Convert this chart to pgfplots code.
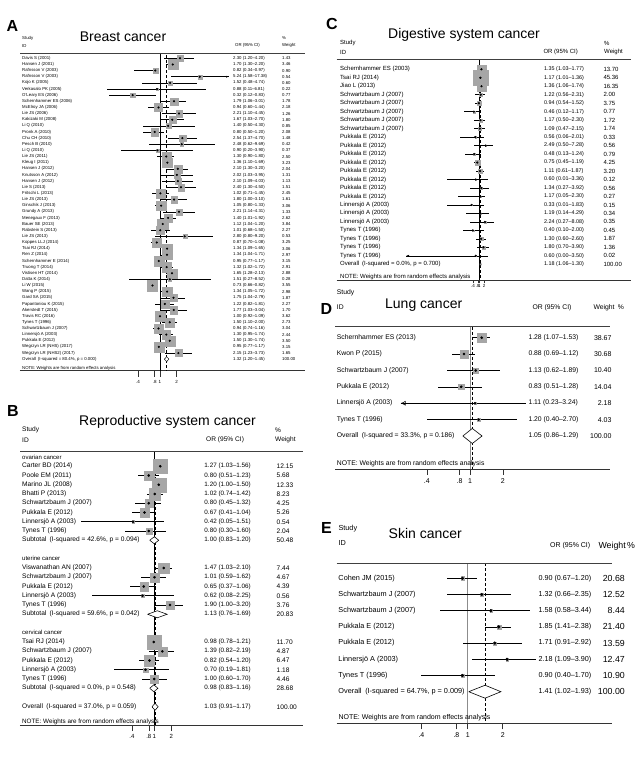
\documentclass[border=0pt]{standalone}
\usepackage{pgfplots}
\pgfplotsset{compat=1.18}
\usepackage{pgfplotstable}
\usepackage{fontspec}
\setmainfont{Liberation Sans}
\usetikzlibrary{arrows.meta}
\pgfkeys{/pgf/number format/assume math mode=true}
\newcommand\fs[1]{\fontsize{#1}{#1}\selectfont}

\pgfplotsset{
  mynames/.style={only marks, mark=none, nodes near coords, point meta=explicit symbolic,
    nodes near coords style={anchor=west, inner sep=0pt, font=#1}},
  myortext/.style={only marks, mark=none,
    visualization depends on={\thisrow{est}\as\ORe},
    visualization depends on={\thisrow{lo}\as\ORl},
    visualization depends on={\thisrow{hi}\as\ORh},
    nodes near coords={\pgfmathprintnumber{\ORe} (\pgfmathprintnumber{\ORl}--\pgfmathprintnumber{\ORh})},
    nodes near coords style={anchor=west, inner sep=0pt, font=#1, /pgf/number format/fixed, /pgf/number format/fixed zerofill, /pgf/number format/precision=2}},
  mywtext/.style={only marks, mark=none,
    visualization depends on={\thisrow{w}\as\ORw},
    nodes near coords={\pgfmathprintnumber{\ORw}},
    nodes near coords style={anchor=west, inner sep=0pt, font=#1, /pgf/number format/fixed, /pgf/number format/fixed zerofill, /pgf/number format/precision=2}},
  mysq/.style={only marks, mark=square*, scatter, scatter/use mapped color={draw=black!35, fill=black!35, line width=0.1pt},
    visualization depends on={#1*sqrt(\thisrow{w})\as\msz},
    scatter/@pre marker code/.append style={/tikz/mark size=\msz}},
  myci/.style 2 args={only marks, mark=*, mark size=#1, black, mark options={draw=black, fill=black},
    error bars/x dir=both, error bars/x explicit, error bars/error mark=none,
    error bars/error bar style={line width=#2, black}},
}

% ---------------- Panel A: breast cancer
\pgfplotstableread[col sep=semicolon]{
row;name;est;lo;hi;w
1;Davis S (2001);2.30;1.20;4.20;1.43
2;Hansen J (2001);1.70;1.30;2.20;3.46
3;Rafnsson V (2003);0.82;0.34;0.97;0.90
4;Rafnsson V (2003);5.24;1.58;17.38;0.54
5;Kojo K (2005);1.52;0.48;4.74;0.60
6;Verkasalo PK (2005);0.88;0.11;6.81;0.22
7;O'Leary ES (2006);0.32;0.12;0.83;0.77
8;Schernhammer ES (2006);1.79;1.06;3.01;1.78
9;McElroy JA (2006);0.94;0.60;1.44;2.18
10;Lie JS (2006);2.21;1.10;4.45;1.26
11;Kakizaki M (2008);1.67;1.03;2.70;1.80
12;Li Q (2010);1.40;0.50;4.30;0.85
13;Pronk A (2010);0.80;0.50;1.20;2.08
14;Chu CH (2010);2.54;1.37;4.70;1.48
15;Pesch B (2010);2.48;0.62;9.69;0.42
16;Li Q (2010);0.90;0.20;3.90;0.37
17;Lie JS (2011);1.30;0.90;1.80;2.50
18;Kleug I (2011);1.36;1.10;1.69;3.23
19;Hansen J (2012);2.10;1.30;3.20;2.04
20;Knutsson A (2012);2.02;1.03;3.95;1.31
21;Hansen J (2012);2.10;1.09;4.03;1.13
22;Lie S (2013);2.40;1.30;4.50;1.51
23;Fritschi L (2013);1.02;0.71;1.45;2.45
24;Lie JS (2013);1.80;1.00;3.10;1.61
25;Ginschik J (2013);1.05;0.80;1.33;3.06
26;Grundy A (2013);2.21;1.14;4.31;1.33
27;Menegaux F (2013);1.40;1.01;1.92;2.62
28;Bauer SE (2013);1.12;1.04;1.20;3.84
29;Rabstein S (2013);1.01;0.68;1.50;2.27
30;Lie JS (2013);2.80;0.80;9.20;0.53
31;Koppes LLJ (2014);0.87;0.70;1.08;3.25
32;Tsai RJ (2014);1.34;1.09;1.65;3.06
33;Ren Z (2014);1.34;1.04;1.71;2.97
34;Schernhammer E (2014);0.95;0.77;1.17;3.15
35;Truong T (2014);1.32;1.02;1.72;2.91
36;Vistisen HT (2014);1.65;1.28;2.13;2.88
37;Datta K (2014);1.51;0.27;8.52;0.28
38;Li W (2015);0.73;0.66;0.82;3.55
39;Wang P (2015);1.34;1.05;1.72;2.98
40;Gard SA (2015);1.75;1.04;2.79;1.87
41;Papantoniou K (2015);1.22;0.82;1.81;2.27
42;Akerstedt T (2015);1.77;1.03;3.04;1.70
43;Travis RC (2016);1.00;0.92;1.09;3.62
44;Tynes T (1996);1.50;1.10;2.00;2.73
45;Schwartzbaum J (2007);0.94;0.74;1.16;3.04
46;Linnersjö A (2003);1.30;0.95;1.74;2.44
47;Pukkala E (2012);1.50;1.30;1.74;3.50
48;Wegrzyn LR (NHS) (2017);0.95;0.77;1.17;3.15
49;Wegrzyn LR (NHS2) (2017);2.15;1.23;3.73;1.65
}\tabA
\pgfplotstableread[col sep=semicolon]{
row;name;est;lo;hi;w
50;Overall\enspace(I-squared = 80.4\%, p = 0.000);1.32;1.20;1.45;100
}\sumA

% ---------------- Panel B: reproductive system cancer
\pgfplotstableread[col sep=semicolon]{
row;name;est;lo;hi;w
2;Carter BD (2014);1.27;1.03;1.56;12.15
3;Poole EM (2011);0.80;0.51;1.23;5.68
4;Marino JL (2008);1.20;1.00;1.50;12.33
5;Bhatti P (2013);1.02;0.74;1.42;8.23
6;Schwartzbaum J (2007);0.80;0.45;1.32;4.25
7;Pukkala E (2012);0.67;0.41;1.04;5.26
8;Linnersjö A (2003);0.42;0.05;1.51;0.54
9;Tynes T (1996);0.80;0.30;1.60;2.04
13;Viswanathan AN (2007);1.47;1.03;2.10;7.44
14;Schwartzbaum J (2007);1.01;0.59;1.62;4.67
15;Pukkala E (2012);0.65;0.37;1.06;4.39
16;Linnersjö A (2003);0.62;0.08;2.25;0.56
17;Tynes T (1996);1.90;1.00;3.20;3.76
21;Tsai RJ (2014);0.98;0.78;1.21;11.70
22;Schwartzbaum J (2007);1.39;0.82;2.19;4.87
23;Pukkala E (2012);0.82;0.54;1.20;6.47
24;Linnersjö A (2003);0.70;0.19;1.81;1.18
25;Tynes T (1996);1.00;0.60;1.70;4.46
}\tabB
\pgfplotstableread[col sep=semicolon]{
row;name;est;lo;hi;w
10;Subtotal\enspace(I-squared = 42.6\%, p = 0.094);1.00;0.83;1.20;50.48
18;Subtotal\enspace(I-squared = 59.6\%, p = 0.042);1.13;0.76;1.69;20.83
26;Subtotal\enspace(I-squared = 0.0\%, p = 0.548);0.98;0.83;1.16;28.68
28;Overall\enspace(I-squared = 37.0\%, p = 0.059);1.03;0.91;1.17;100
}\sumB
\pgfplotstableread[col sep=semicolon]{
row;name
1;ovarian cancer
12;uterine cancer
20;cervical cancer
}\headB

% ---------------- Panel C: digestive system cancer
\pgfplotstableread[col sep=semicolon]{
row;name;est;lo;hi;w
1;Schernhammer ES (2003);1.35;1.03;1.77;13.70
2;Tsai RJ (2014);1.17;1.01;1.36;45.36
3;Jiao L (2013);1.36;1.06;1.74;16.35
4;Schwartzbaum J (2007);1.22;0.56;2.31;2.00
5;Schwartzbaum J (2007);0.94;0.54;1.52;3.75
6;Schwartzbaum J (2007);0.46;0.12;1.17;0.77
7;Schwartzbaum J (2007);1.17;0.50;2.30;1.72
8;Schwartzbaum J (2007);1.09;0.47;2.15;1.74
9;Pukkala E (2012);0.56;0.06;2.01;0.33
10;Pukkala E (2012);2.49;0.50;7.28;0.56
11;Pukkala E (2012);0.48;0.13;1.24;0.79
12;Pukkala E (2012);0.75;0.45;1.19;4.25
13;Pukkala E (2012);1.11;0.61;1.87;3.20
14;Pukkala E (2012);0.60;0.01;3.36;0.12
15;Pukkala E (2012);1.34;0.27;3.92;0.56
16;Pukkala E (2012);1.17;0.05;2.30;0.27
17;Linnersjö A (2003);0.33;0.01;1.83;0.15
18;Linnersjö A (2003);1.19;0.14;4.29;0.34
19;Linnersjö A (2003);2.24;0.27;8.08;0.35
20;Tynes T (1996);0.40;0.10;2.00;0.45
21;Tynes T (1996);1.30;0.60;2.60;1.87
22;Tynes T (1996);1.80;0.70;3.90;1.36
23;Tynes T (1996);0.60;0.0000284;3.50;0.02
}\tabC
\pgfplotstableread[col sep=semicolon]{
row;name;est;lo;hi;w
24;Overall\enspace(I-squared = 0.0\%, p = 0.700);1.18;1.06;1.30;100
}\sumC

% ---------------- Panel D: lung cancer
\pgfplotstableread[col sep=semicolon]{
row;name;est;lo;hi;w
1;Schernhammer ES (2013);1.28;1.07;1.53;38.67
2;Kwon P (2015);0.88;0.69;1.12;30.68
3;Schwartzbaum J (2007);1.13;0.62;1.89;10.40
4;Pukkala E (2012);0.83;0.51;1.28;14.04
5;Linnersjö A (2003);1.11;0.23;3.24;2.18
6;Tynes T (1996);1.20;0.40;2.70;4.03
}\tabD
\pgfplotstableread[col sep=semicolon]{
row;name;est;lo;hi;w
7;Overall\enspace(I-squared = 33.3\%, p = 0.186);1.05;0.86;1.29;100
}\sumD

% ---------------- Panel E: skin cancer
\pgfplotstableread[col sep=semicolon]{
row;name;est;lo;hi;w
1;Cohen JM (2015);0.90;0.67;1.20;20.68
2;Schwartzbaum J (2007);1.32;0.66;2.35;12.52
3;Schwartzbaum J (2007);1.58;0.58;3.44;8.44
4;Pukkala E (2012);1.85;1.41;2.38;21.40
5;Pukkala E (2012);1.71;0.91;2.92;13.59
6;Linnersjö A (2003);2.18;1.09;3.90;12.47
7;Tynes T (1996);0.90;0.40;1.70;10.90
}\tabE
\pgfplotstableread[col sep=semicolon]{
row;name;est;lo;hi;w
8;Overall\enspace(I-squared = 64.7\%, p = 0.009);1.41;1.02;1.93;100
}\sumE

\begin{document}
\begin{tikzpicture}[x=1pt,y=1pt]
\path[use as bounding box] (0,0) rectangle (640,757);

% ================= A
\begin{axis}[xmode=log, scale only axis, y dir=reverse, axis x line*=bottom, axis y line=none, clip=false,
  xtick={0.4,0.8,1,2}, xticklabels={.4,.8,1,2}, minor xtick={}, tick align=outside,
  axis line style={line width=0.5pt, black!80}, tick style={line width=0.45pt, black!80},
  at={(20pt,386.3pt)}, anchor=south west, width=285pt, height=317.7pt,
  xmin=0.002928, xmax=420.6, ymin=0.137, ymax=51.88, major tick length=6pt,
  xticklabel style={font=\fs{4.5}}]
\addplot[black, line width=0.45pt] coordinates {(1,0.137) (1,51.88)};
\addplot[black, densely dashed, line width=0.4pt] coordinates {(1.32,0.5) (1.32,51.88)};
\addplot[mysq=2.7] table[x=est, y=row] {\tabA};
\addplot[myci={0.85pt}{0.5pt}] table[x=est, y=row, x error plus expr=\thisrow{hi}-\thisrow{est}, x error minus expr=\thisrow{est}-\thisrow{lo}] {\tabA};
\addplot[-{Latex[length=2.5pt,width=2pt]}, line width=0.5pt] coordinates {(5.24,4) (17.38,4)};
\addplot[fill=white, draw=black, line width=0.45pt] coordinates {(1.20,50) (1.32,49.6) (1.45,50) (1.32,50.4) (1.20,50)};
\addplot[mynames=\fs{4.3}] table[x expr={exp(-5.75)}, y=row, meta=name] {\tabA};
\addplot[mynames=\fs{4.3}] table[x expr={exp(-5.75)}, y=row, meta=name] {\sumA};
\addplot[myortext=\fs{4.3}] table[x expr={exp(3.0417)}, y=row] {\tabA};
\addplot[myortext=\fs{4.3}] table[x expr={exp(3.0417)}, y=row] {\sumA};
\addplot[mywtext=\fs{4.3}] table[x expr={exp(5.0833)}, y=row] {\tabA};
\addplot[mywtext=\fs{4.3}] table[x expr={exp(5.0833)}, y=row] {\sumA};
\end{axis}
\node[font=\bfseries\fs{16}] at (12.5,731) {A};
\node[font=\fs{14}] at (123,720.3) {Breast cancer};
\node[anchor=west, inner sep=0pt, font=\fs{4.3}] at (22,718.7) {Study};
\node[anchor=west, inner sep=0pt, font=\fs{4.3}] at (22,711.3) {ID};
\node[anchor=west, inner sep=0pt, font=\fs{4.3}] at (235,711.3) {OR (95\% CI)};
\node[anchor=west, inner sep=0pt, font=\fs{4.3}] at (282,718.7) {\%};
\node[anchor=west, inner sep=0pt, font=\fs{4.3}] at (282,711.3) {Weight};
\draw[black!75, line width=0.5pt] (20,704) -- (305,704);
\node[anchor=base west, inner sep=0pt, font=\fs{4.3}] at (22,387.5) {NOTE: Weights are from random effects analysis};

% ================= B
\begin{axis}[xmode=log, scale only axis, y dir=reverse, axis x line*=bottom, axis y line=none, clip=false,
  xtick={0.4,0.8,1,2}, xticklabels={.4,.8,1,2}, minor xtick={}, tick align=outside,
  axis line style={line width=0.5pt, black!80}, tick style={line width=0.45pt, black!80},
  at={(20pt,32pt)}, anchor=south west, width=283pt, height=274pt,
  xmin=0.0041626, xmax=432.42, ymin=0.351, ymax=29.97, major tick length=6pt,
  xticklabel style={font=\fs{6}}]
\addplot[black, line width=0.5pt] coordinates {(1,0.351) (1,29.97)};
\addplot[black, densely dashed, line width=0.45pt] coordinates {(1.03,1.5) (1.03,29.97)};
\addplot[mysq=2.0] table[x=est, y=row] {\tabB};
\addplot[myci={1.1pt}{0.6pt}] table[x=est, y=row, x error plus expr=\thisrow{hi}-\thisrow{est}, x error minus expr=\thisrow{est}-\thisrow{lo}] {\tabB};
\addplot[fill=white, draw=black, line width=0.55pt] coordinates {(0.83,10) (1.00,9.62) (1.20,10) (1.00,10.38) (0.83,10)};
\addplot[fill=white, draw=black, line width=0.55pt] coordinates {(0.76,18) (1.13,17.62) (1.69,18) (1.13,18.38) (0.76,18)};
\addplot[fill=white, draw=black, line width=0.55pt] coordinates {(0.83,26) (0.98,25.62) (1.16,26) (0.98,26.38) (0.83,26)};
\addplot[fill=white, draw=black, line width=0.55pt] coordinates {(0.91,28) (1.03,27.62) (1.17,28) (1.03,28.38) (0.91,28)};
\addplot[mynames=\fs{6.6}] table[x expr={exp(-5.4)}, y=row, meta=name] {\tabB};
\addplot[mynames=\fs{6.6}] table[x expr={exp(-5.4)}, y=row, meta=name] {\sumB};
\addplot[mynames=\fs{6}] table[x expr={exp(-5.4)}, y=row, meta=name] {\headB};
\addplot[myortext=\fs{6.3}] table[x expr={exp(2.0408)}, y=row] {\tabB};
\addplot[myortext=\fs{6.3}] table[x expr={exp(2.0408)}, y=row] {\sumB};
\addplot[mywtext=\fs{6.6}] table[x expr={exp(4.9878)}, y=row] {\tabB};
\addplot[mywtext=\fs{6.6}] table[x expr={exp(4.9878)}, y=row] {\sumB};
\end{axis}
\node[font=\bfseries\fs{16}] at (13,346) {B};
\node[font=\fs{14}] at (167.5,335.3) {Reproductive system cancer};
\node[anchor=west, inner sep=0pt, font=\fs{6.6}] at (22,327) {Study};
\node[anchor=west, inner sep=0pt, font=\fs{6.6}] at (22,317) {ID};
\node[anchor=west, inner sep=0pt, font=\fs{6.6}] at (206,317) {OR (95\% CI)};
\node[anchor=west, inner sep=0pt, font=\fs{6.6}] at (275,327) {\%};
\node[anchor=west, inner sep=0pt, font=\fs{6.6}] at (275,317) {Weight};
\draw[black!75, line width=0.5pt] (20,306) -- (303,306);
\node[anchor=base west, inner sep=0pt, font=\fs{6.3}] at (22,33.5) {NOTE: Weights are from random effects analysis};

% ================= C
\begin{axis}[xmode=log, scale only axis, y dir=reverse, axis x line*=bottom, axis y line=none, clip=false,
  xtick={0.4,0.8,1,2}, xticklabels={.4,.8,1,2}, minor xtick={}, tick align=outside,
  axis line style={line width=0.5pt, black!80}, tick style={line width=0.45pt, black!80},
  at={(336.7pt,477pt)}, anchor=south west, width=294.3pt, height=220.7pt,
  xmin=1.4222e-9, xmax=2.5799e9, ymin=-0.179, ymax=25.85, major tick length=3.5pt,
  xticklabel style={font=\fs{4.5}, inner sep=1pt}]
\addplot[black, line width=0.45pt] coordinates {(1,-0.179) (1,25.85)};
\addplot[black, densely dashed, line width=0.4pt] coordinates {(1.18,0.5) (1.18,25.85)};
\addplot[mysq=1.12] table[x=est, y=row] {\tabC};
\addplot[myci={0.9pt}{0.55pt}] table[x=est, y=row, x error plus expr=\thisrow{hi}-\thisrow{est}, x error minus expr=\thisrow{est}-\thisrow{lo}] {\tabC};
\addplot[-{Latex[length=3pt,width=2.2pt]}, line width=0.55pt] coordinates {(0.60,23) (0.0000284,23)};
\addplot[fill=white, draw=black, line width=0.45pt] coordinates {(1.06,24) (1.18,23.7) (1.30,24) (1.18,24.3) (1.06,24)};
\addplot[mynames=\fs{6}] table[x expr={exp(-19.9)}, y=row, meta=name] {\tabC};
\addplot[mynames=\fs{6}] table[x expr={exp(-19.9)}, y=row, meta=name] {\sumC};
\addplot[myortext=\fs{5.4}] table[x expr={exp(9.243)}, y=row] {\tabC};
\addplot[myortext=\fs{5.4}] table[x expr={exp(9.243)}, y=row] {\sumC};
\addplot[mywtext=\fs{6}] table[x expr={exp(17.714)}, y=row] {\tabC};
\addplot[mywtext=\fs{6}] table[x expr={exp(17.714)}, y=row] {\sumC};
\end{axis}
\node[font=\bfseries\fs{16}] at (332,733) {C};
\node[font=\fs{14}] at (464,722) {Digestive system cancer};
\node[anchor=west, inner sep=0pt, font=\fs{6}] at (340,714) {Study};
\node[anchor=west, inner sep=0pt, font=\fs{6}] at (340,705) {ID};
\node[anchor=west, inner sep=0pt, font=\fs{6}] at (543.3,705) {OR (95\% CI)};
\node[anchor=west, inner sep=0pt, font=\fs{6}] at (604,714) {\%};
\node[anchor=west, inner sep=0pt, font=\fs{6}] at (604,705) {Weight};
\draw[black!75, line width=0.5pt] (336.7,697.7) -- (631,697.7);
\node[anchor=base west, inner sep=0pt, font=\fs{6}] at (340,478.5) {NOTE: Weights are from random effects analysis};

% ================= D
\begin{axis}[xmode=log, scale only axis, y dir=reverse, axis x line*=bottom, axis y line=none, clip=false,
  xtick={0.4,0.8,1,2}, xticklabels={.4,.8,1,2}, minor xtick={}, tick align=outside,
  axis line style={line width=0.5pt, black!80}, tick style={line width=0.45pt, black!80},
  at={(335pt,287.7pt)}, anchor=south west, width=275pt, height=142.6pt,
  xmin=0.05726, xmax=19.416, ymin=0.328, ymax=9.034, major tick length=5.5pt,
  xticklabel style={font=\fs{7}}]
\addplot[black!45, line width=0.9pt] coordinates {(1,0.328) (1,9.034)};
\addplot[black, densely dashed, line width=0.4pt] coordinates {(1.05,0.328) (1.05,9.034)};
\addplot[mysq=0.72] table[x=est, y=row] {\tabD};
\addplot[myci={1.1pt}{0.6pt}] table[x=est, y=row, x error plus expr=\thisrow{hi}-\thisrow{est}, x error minus expr=\thisrow{est}-\thisrow{lo}] {\tabD};
\addplot[-{Latex[open, length=5pt,width=5pt]}, line width=0.6pt] coordinates {(1.11,5) (0.23,5)};
\addplot[fill=white, draw=black, line width=0.6pt] coordinates {(0.86,7) (1.05,6.54) (1.29,7) (1.05,7.46) (0.86,7)};
\addplot[mynames=\fs{6.8}] table[x expr={exp(-2.8242)}, y=row, meta=name] {\tabD};
\addplot[mynames=\fs{6.8}] table[x expr={exp(-2.8242)}, y=row, meta=name] {\sumD};
\addplot[myortext=\fs{6.8}] table[x expr={exp(1.2352)}, y=row] {\tabD};
\addplot[myortext=\fs{6.8}] table[x expr={exp(1.2352)}, y=row] {\sumD};
\addplot[mywtext=\fs{7}, nodes near coords style={anchor=east}] table[x expr={exp(3.0021)}, y=row] {\tabD};
\addplot[mywtext=\fs{7}, nodes near coords style={anchor=east}] table[x expr={exp(3.0021)}, y=row] {\sumD};
\end{axis}
\node[font=\bfseries\fs{16}] at (326.5,448) {D};
\node[font=\fs{14}] at (423.7,452) {Lung cancer};
\node[anchor=west, inner sep=0pt, font=\fs{6.8}] at (336.7,464.3) {Study};
\node[anchor=west, inner sep=0pt, font=\fs{6.8}] at (336.7,449.7) {ID};
\node[anchor=west, inner sep=0pt, font=\fs{6.8}] at (532.3,449.7) {OR (95\% CI)};
\node[anchor=west, inner sep=0pt, font=\fs{6.8}] at (593.3,449.7) {Weight\enspace\%};
\draw[black!75, line width=0.5pt] (335,430.3) -- (610,430.3);
\node[anchor=base west, inner sep=0pt, font=\fs{6.8}] at (336.7,291.5) {NOTE: Weights are from random effects analysis};

% ================= E
\begin{axis}[xmode=log, scale only axis, y dir=reverse, axis x line*=bottom, axis y line=none, clip=false,
  xtick={0.4,0.8,1,2}, xticklabels={.4,.8,1,2}, minor xtick={}, tick align=outside,
  axis line style={line width=0.5pt, black!80}, tick style={line width=0.45pt, black!80},
  at={(336.7pt,33.7pt)}, anchor=south west, width=275pt, height=160pt,
  xmin=0.074713, xmax=17.314, ymin=0.074, ymax=9.95, major tick length=6pt,
  xticklabel style={font=\fs{7}}]
\addplot[black!45, line width=0.9pt] coordinates {(1,0.074) (1,9.95)};
\addplot[black, densely dashed, line width=0.4pt] coordinates {(1.41,0.074) (1.41,9.95)};
\addplot[mysq=0.4] table[x=est, y=row] {\tabE};
\addplot[myci={1.4pt}{0.7pt}] table[x=est, y=row, x error plus expr=\thisrow{hi}-\thisrow{est}, x error minus expr=\thisrow{est}-\thisrow{lo}] {\tabE};
\addplot[fill=white, draw=black, line width=0.6pt] coordinates {(1.02,8) (1.41,7.6) (1.93,8) (1.41,8.4) (1.02,8)};
\addplot[mynames=\fs{7.3}] table[x expr={exp(-2.5624)}, y=row, meta=name] {\tabE};
\addplot[mynames=\fs{7.3}] table[x expr={exp(-2.5624)}, y=row, meta=name] {\sumE};
\addplot[myortext=\fs{7.2}] table[x expr={exp(1.398)}, y=row] {\tabE};
\addplot[myortext=\fs{7.2}] table[x expr={exp(1.398)}, y=row] {\sumE};
\addplot[mywtext=\fs{8.8}, nodes near coords style={anchor=east}] table[x expr={exp(3.1149)}, y=row] {\tabE};
\addplot[mywtext=\fs{8.8}, nodes near coords style={anchor=east}] table[x expr={exp(3.1149)}, y=row] {\sumE};
\end{axis}
\node[font=\bfseries\fs{16}] at (326.5,229.5) {E};
\node[font=\fs{14}] at (425.3,223.7) {Skin cancer};
\node[anchor=west, inner sep=0pt, font=\fs{7.3}] at (338.3,228.7) {Study};
\node[anchor=west, inner sep=0pt, font=\fs{7.3}] at (338.3,213.7) {ID};
\node[anchor=west, inner sep=0pt, font=\fs{7}] at (550,211) {OR (95\% CI)};
\node[anchor=west, inner sep=0pt, font=\fs{8.8}] at (598.3,211) {Weight\,\%};
\draw[black!75, line width=0.5pt] (336.7,193.7) -- (611.7,193.7);
\node[anchor=base west, inner sep=0pt, font=\fs{7}] at (338.3,37.5) {NOTE: Weights are from random effects analysis};
\end{tikzpicture}
\end{document}
